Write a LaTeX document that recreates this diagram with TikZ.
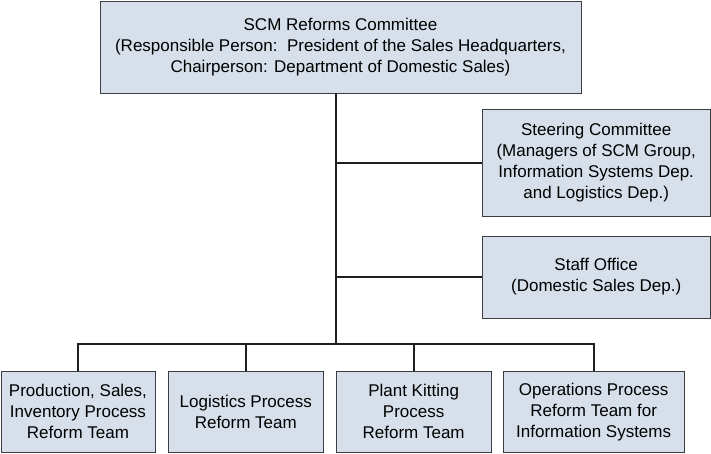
\documentclass[tikz,border=0pt]{standalone}
\usepackage{fontspec}
\setmainfont{Liberation Sans}
\usepackage{tikz}
\usetikzlibrary{positioning,calc}
\definecolor{Panel}{HTML}{D6DFEA}
\definecolor{Edge}{HTML}{3A3D42}
\definecolor{Wire}{HTML}{1E1F22}
\tikzset{
  orgbox/.style={rectangle, draw=Edge, fill=Panel, line width=0.6pt, align=center, inner sep=2pt, font=\fontsize{17bp}{21bp}\selectfont},
  teambox/.style={orgbox, minimum height=2.86cm},
  orgline/.style={draw=Wire, line width=2pt},
}

\begin{document}
\begin{tikzpicture}[x=1cm,y=1cm]
\path[use as bounding box] (0,0) rectangle (25.08,15.98);

% committee and staff units
\node[orgbox,minimum width=16.97cm,minimum height=3.25cm] (top) at (12.01,14.32) {SCM Reforms Committee\\(Responsible Person:\ \ President of the Sales Headquarters,\\Chairperson: Department of Domestic Sales)};
\node[orgbox,minimum width=8.04cm,minimum height=3.77cm] (steer) at (21.03,10.23) {Steering Committee\\(Managers of SCM Group,\\Information Systems Dep.\\and Logistics Dep.)};
\node[orgbox,minimum width=8.04cm,minimum height=2.89cm] (staff) at (21.03,6.21) {Staff Office\\(Domestic Sales Dep.)};

% reform teams
\node[teambox,minimum width=5.43cm] (team1) at (2.75,1.46) {Production, Sales,\\Inventory Process\\Reform Team};
\node[teambox,minimum width=5.47cm] (team2) at (8.67,1.46) {Logistics Process\\Reform Team};
\node[teambox,minimum width=5.47cm] (team3) at (14.59,1.46) {Plant Kitting\\Process\\Reform Team};
\node[teambox,minimum width=6.39cm] (team4) at (20.94,1.46) {Operations Process\\Reform Team for\\Information Systems};

% trunk and branches
\coordinate (hub) at (11.85,3.85);
\draw[orgline] (top.south -| hub) -- (hub);
\draw[orgline] (steer.west -| hub) -- (steer.west);
\draw[orgline] (staff.west -| hub) -- (staff.west);
\draw[orgline] (team1.north) |- (team4.north |- hub) -- (team4.north);
\draw[orgline] (team2.north |- hub) -- (team2.north);
\draw[orgline] (team3.north |- hub) -- (team3.north);
\end{tikzpicture}
\end{document}
